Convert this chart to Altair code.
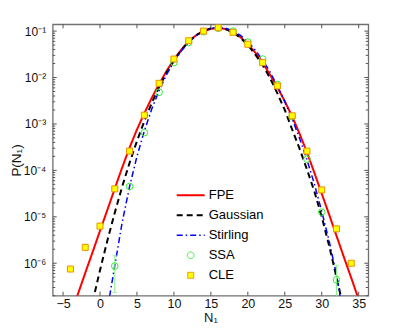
import altair as alt
import pandas as pd

# ---------------- data ----------------
series_names = ["FPE", "Gaussian", "Stirling", "SSA", "CLE"]

fpe_n = list(range(-4, 36))
fpe_p = [7.41e-8, 2.14e-7, 6.17e-7, 1.74e-6, 5.01e-6, 1.41e-5, 4.07e-5, 1.15e-4, 3.09e-4, 7.59e-4,
         1.70e-3, 3.63e-3, 7.24e-3, 1.38e-2, 2.45e-2, 3.98e-2, 6.03e-2, 8.13e-2, 0.100, 0.112,
         0.116, 0.111, 0.0955, 0.0741, 0.0525, 0.0347, 0.0209, 0.0115, 6.17e-3, 3.09e-3,
         1.45e-3, 6.17e-4, 2.45e-4, 8.91e-5, 3.16e-5, 1.12e-5, 3.89e-6, 1.35e-6, 4.79e-7, 1.66e-7]

gauss_n = list(range(-1, 34))
gauss_p = [1.48e-7, 7.08e-7, 3.09e-6, 1.23e-5, 4.47e-5, 1.45e-4, 4.27e-4, 1.15e-3, 2.82e-3, 6.31e-3,
           1.26e-2, 2.34e-2, 3.89e-2, 5.89e-2, 8.13e-2, 0.100, 0.115, 0.117, 0.110, 0.0933,
           0.0724, 0.0501, 0.0316, 0.0186, 9.77e-3, 4.57e-3, 2.00e-3, 7.59e-4, 2.95e-4, 1.05e-4,
           3.55e-5, 1.00e-5, 2.40e-6, 5.01e-7, 1.00e-7]

stirling_n = list(range(1, 34))
stirling_p = [1.0e-7, 8.91e-7, 7.59e-6, 4.47e-5, 2.00e-4, 7.08e-4, 2.09e-3, 5.25e-3, 1.15e-2, 2.19e-2,
              3.72e-2, 5.75e-2, 7.94e-2, 0.100, 0.115, 0.119, 0.115, 0.101, 0.0813, 0.0589,
              0.0389, 0.0240, 0.0132, 6.61e-3, 3.02e-3, 1.29e-3, 4.90e-4, 1.70e-4, 5.13e-5, 1.32e-5,
              3.02e-6, 5.62e-7, 6.3e-8]

ssa_n = [2, 4, 6, 8, 10, 12, 14, 16, 18, 20, 22, 24, 26, 28, 30, 32]
ssa_p = [8.7e-7, 4.5e-5, 6.5e-4, 4.8e-3, 0.021, 0.057, 0.097, 0.115, 0.100, 0.058,
         0.025, 7.1e-3, 1.44e-3, 1.75e-4, 1.26e-5, 4.4e-7]

err_n = [2, 32]
err_lo = [2.35e-7, 1.0e-7]
err_hi = [1.45e-6, 9.1e-7]

cle_n = [-4, -2, 0, 2, 4, 6, 8, 10, 12, 14, 16, 18, 20, 22, 24, 26, 28, 30, 32, 34]
cle_p = [7.5e-7, 2.2e-6, 6.3e-6, 4.0e-5, 2.6e-4, 1.55e-3, 7.5e-3, 0.025, 0.062, 0.100,
         0.118, 0.094, 0.052, 0.021, 6.6e-3, 1.5e-3, 2.6e-4, 3.8e-5, 5.5e-6, 1.0e-6]

x_ticks = [-5, 0, 5, 10, 15, 20, 25, 30, 35]
y_ticks = [1e-6, 1e-5, 1e-4, 1e-3, 1e-2, 1e-1]
y_minor = [m * 10.0 ** e for e in range(-7, 0) for m in range(2, 10)]
y_minor = [v for v in y_minor if 2e-7 <= v <= 0.14]

# ---------------- tables ----------------
lines_df = pd.concat([
    pd.DataFrame({"N": fpe_n, "P": fpe_p, "series": "FPE"}),
    pd.DataFrame({"N": gauss_n, "P": gauss_p, "series": "Gaussian"}),
    pd.DataFrame({"N": stirling_n, "P": stirling_p, "series": "Stirling"}),
], ignore_index=True)

points_df = pd.concat([
    pd.DataFrame({"N": ssa_n, "P": ssa_p, "series": "SSA"}),
    pd.DataFrame({"N": cle_n, "P": cle_p, "series": "CLE"}),
], ignore_index=True)

err_df = pd.DataFrame({"N": err_n, "P": err_lo, "hi": err_hi})
caps_df = pd.DataFrame({"N": err_n + err_n, "P": err_lo + err_hi})
xt_df = pd.DataFrame({"N": x_ticks})
yt_df = pd.DataFrame({"P": y_ticks})
ym_df = pd.DataFrame({"P": y_minor})

# ---------------- style ----------------
W, H = 315.6, 271.4
FONT = "Liberation Sans"
TICK = "#555555"

x_scale = alt.Scale(domain=[-6.4, 36.3], nice=False, zero=False)
y_scale = alt.Scale(type="log", domain=[2e-7, 0.14], nice=False)

leg = alt.Legend(title=None, orient="none", legendX=123, legendY=163, clipHeight=16,
                 rowPadding=4, labelOffset=3, labelFontSize=13, labelFont=FONT,
                 labelColor="#000000", padding=0)

stroke_s = alt.Scale(domain=series_names,
                     range=["#ff0000", "#000000", "#0000ff", "#33ee33", "#f09000"])
fill_s = alt.Scale(domain=series_names,
                   range=["transparent", "transparent", "transparent", "transparent", "#ffff00"])
shape_s = alt.Scale(domain=series_names, range=["stroke", "stroke", "stroke", "circle", "square"])
size_s = alt.Scale(type="ordinal", domain=series_names, range=[784, 784, 784, 44, 36])
dash_s = alt.Scale(domain=series_names, range=[[1, 0], [6, 4], [6, 3, 1.5, 3], [1, 0], [1, 0]])
sw_s = alt.Scale(type="ordinal", domain=series_names, range=[2, 2, 1.5, 1, 1])

x_axis = alt.Axis(values=x_ticks, ticks=False, domain=False, grid=False,
                  labelFontSize=12.5, labelPadding=2, labelColor="#111111",
                  title="N₁", titleFontSize=13, titleFontWeight="normal",
                  titleBaseline="alphabetic", titleY=26.3, titleX=W / 2,
                  titleColor="#111111")
y_axis = alt.Axis(values=y_ticks, ticks=False, domain=False, grid=False,
                  labelExpr="'10' + ['⁰','⁻¹','⁻²','⁻³','⁻⁴','⁻⁵','⁻⁶','⁻⁷'][round(-log(datum.value)/LN10)]",
                  labelFontSize=12, labelPadding=7, labelColor="#111111",
                  title="P(N₁)", titleFontSize=13.5, titleFontWeight="normal",
                  titleBaseline="alphabetic", titleX=-32.3, titleY=H / 2, titleAngle=270,
                  titleAlign="center", titleColor="#111111")

X = alt.X("N:Q", scale=x_scale, axis=x_axis)
Y = alt.Y("P:Q", scale=y_scale, axis=y_axis)

lines = alt.Chart(lines_df).mark_line(clip=True).encode(
    x=X, y=Y,
    stroke=alt.Stroke("series:N", scale=stroke_s, legend=leg),
    strokeDash=alt.StrokeDash("series:N", scale=dash_s, legend=leg),
    strokeWidth=alt.StrokeWidth("series:N", scale=sw_s, legend=leg),
)

err_bars = alt.Chart(err_df).mark_rule(clip=True, color="#88ee88", strokeWidth=1).encode(
    x=X, y=Y, y2="hi:Q",
)
err_caps = alt.Chart(caps_df).mark_tick(clip=True, color="#88ee88", orient="horizontal",
                                        size=5, thickness=1).encode(x=X, y=Y)

points = alt.Chart(points_df).mark_point(clip=True, opacity=1, strokeWidth=1).encode(
    x=X, y=Y,
    stroke=alt.Stroke("series:N", scale=stroke_s, legend=leg),
    fill=alt.Fill("series:N", scale=fill_s, legend=leg),
    shape=alt.Shape("series:N", scale=shape_s, legend=leg),
    size=alt.Size("series:N", scale=size_s, legend=leg),
)

# inward ticks on all four sides
def xt(y0, y1):
    return alt.Chart(xt_df).mark_rule(color=TICK, strokeWidth=1).encode(
        x=X, y=alt.value(y0), y2=alt.value(y1))

def yt(df, x0, x1):
    return alt.Chart(df).mark_rule(color=TICK, strokeWidth=1).encode(
        y=Y, x=alt.value(x0), x2=alt.value(x1))

ticks = [xt(H, H - 4), xt(0, 4), yt(yt_df, 0, 4), yt(yt_df, W, W - 4),
         yt(ym_df, 0, 2.5), yt(ym_df, W, W - 2.5)]

chart = alt.layer(lines, err_bars, err_caps, points, *ticks).properties(
    width=W, height=H,
    autosize=alt.AutoSizeParams(type="none"),
    padding={"left": 44.7, "top": 16.3, "right": 25, "bottom": 29.2},
).configure(font=FONT).configure_view(stroke="#707070", strokeWidth=1.3)

chart.save("out.html", embed_options={"renderer": "svg", "actions": False})
